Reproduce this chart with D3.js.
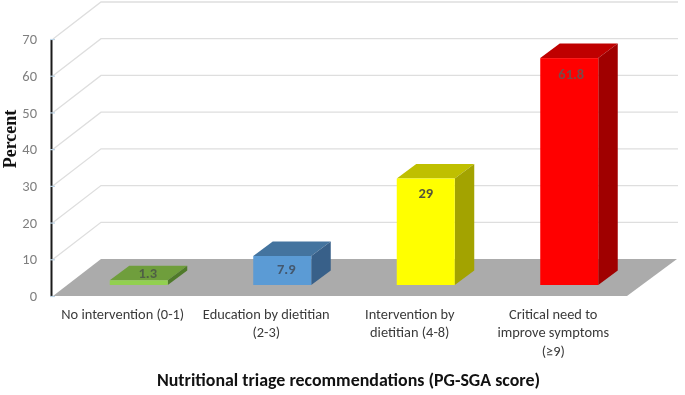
<!DOCTYPE html>
<html><head><meta charset="utf-8">
<script src="https://cdn.jsdelivr.net/npm/d3@7"></script>
<style>html,body{margin:0;background:#fff}svg{display:block;filter:blur(0.4px)}</style>
</head><body><div id="c"></div>
<script>
const categories = ["No intervention (0-1)", "Education by dietitian (2-3)", "Intervention by dietitian (4-8)", "Critical need to improve symptoms (≥9)"];
const categoryLines = [["No intervention (0-1)"], ["Education by dietitian", "(2-3)"], ["Intervention by", "dietitian (4-8)"], ["Critical need to", "improve symptoms", "(≥9)"]];
const values = [1.3, 7.9, 29, 61.8];
const valueLabels = ["1.3", "7.9", "29", "61.8"];
const yTicks = [0, 10, 20, 30, 40, 50, 60, 70];
const frontColors = ["#92d050", "#5b9bd5", "#ffff00", "#ff0000"];
const topColors = ["#6f9e3c", "#44749f", "#bfbf00", "#bf0000"];
const sideColors = ["#4f7a2a", "#386089", "#a3a300", "#a00000"];
const labelColors = ["#4f5f45", "#44586e", "#55553a", "#7a4a4a"];

const W = 685, H = 395;
const svg = d3.select("#c").append("svg").attr("width", W).attr("height", H);
const y = d3.scaleLinear().domain([0, 70]).range([296, 39]);
const x = d3.scaleBand().domain(categories).range([67, 641]).paddingInner(0.6).paddingOuter(0.3);
const wall = {dx: 48, dy: -37};
const barDepth = {dx: 19.5, dy: -14.5};
const floorInset = 11, left = 53, right = 627;
const lab = "Carlito, Lato, 'Open Sans', sans-serif";

// wall gridlines
const g = svg.append("g");
yTicks.filter(t => t > 0).forEach(t => {
  g.append("path").attr("fill", "none").attr("stroke", "#dedede").attr("stroke-width", 1.3)
    .attr("d", `M${left},${y(t)}L${left + wall.dx},${y(t) + wall.dy}L${right + wall.dx + 3},${y(t) + wall.dy}`);
});
// floor
g.append("path").attr("fill", "#ababab")
  .attr("d", `M${left},${y(0)}L${right},${y(0)}L${right + wall.dx + 2},${y(0) + wall.dy}L${left + wall.dx},${y(0) + wall.dy}Z`);

// bars
const base = y(0) - floorInset;
const barW = 58;
const bars = svg.append("g").selectAll("g").data(categories).join("g");
const bx = (d) => x(d) + x.bandwidth() / 2 - barW / 2;
const h = (i) => y(0) - y(values[i]);
bars.append("path").attr("fill", (d, i) => topColors[i]).attr("d", (d, i) => {
  const l = bx(d), t = base - h(i);
  return `M${l},${t}L${l + barW},${t}L${l + barW + barDepth.dx},${t + barDepth.dy}L${l + barDepth.dx},${t + barDepth.dy}Z`;
});
bars.append("path").attr("fill", (d, i) => sideColors[i]).attr("d", (d, i) => {
  const r = bx(d) + barW, t = base - h(i);
  return `M${r},${t}L${r + barDepth.dx},${t + barDepth.dy}L${r + barDepth.dx},${base + barDepth.dy}L${r},${base}Z`;
});
bars.append("rect").attr("fill", (d, i) => frontColors[i])
  .attr("x", bx).attr("y", (d, i) => base - h(i)).attr("width", barW).attr("height", (d, i) => h(i));
bars.append("text").text((d, i) => valueLabels[i])
  .attr("x", (d, i) => bx(d) + barW / 2 + [9, 4, 0, 2][i])
  .attr("y", (d, i) => base - h(i) + [-2, 18, 19, 21][i])
  .attr("text-anchor", "middle").attr("font-family", lab).attr("font-weight", 700).attr("font-size", 14.5)
  .attr("fill", (d, i) => labelColors[i]);

// y axis
const axis = svg.append("g").attr("transform", "translate(51,0)")
  .call(d3.axisLeft(y).tickValues(yTicks).tickSize(0).tickPadding(14));
axis.select(".domain").attr("stroke", "#1a1a1a").attr("stroke-width", 2);
axis.selectAll(".tick line").attr("x1", -1).attr("x2", 4).attr("stroke", "#bcd4e6").attr("stroke-width", 1.2);
axis.selectAll(".tick text").attr("fill", "#7f7f7f").attr("font-family", lab).attr("font-size", 14.5);

// category labels
svg.append("g").selectAll("text").data(categories).join("text")
  .attr("text-anchor", "middle").attr("font-family", lab).attr("font-size", 14.4).attr("fill", "#3a3a3a")
  .attr("transform", (d, i) => `translate(${x(d) + x.bandwidth() / 2 - 16},0)`)
  .each(function (d, i) {
    d3.select(this).selectAll("tspan").data(categoryLines[i]).join("tspan")
      .attr("x", 0).attr("y", (s, j) => 319 + j * 18.3).text(s => s);
  });

// axis titles
svg.append("text").attr("transform", "translate(16,139) rotate(-90)").attr("text-anchor", "middle")
  .attr("font-family", "'Liberation Serif', serif").attr("font-weight", 700).attr("font-size", 18).attr("fill", "#111").text("Percent");
svg.append("text").attr("x", 348.5).attr("y", 386).attr("text-anchor", "middle")
  .attr("font-family", lab).attr("font-weight", 700).attr("font-size", 17.9).attr("fill", "#111")
  .text("Nutritional triage recommendations (PG-SGA score)");
</script></body></html>
